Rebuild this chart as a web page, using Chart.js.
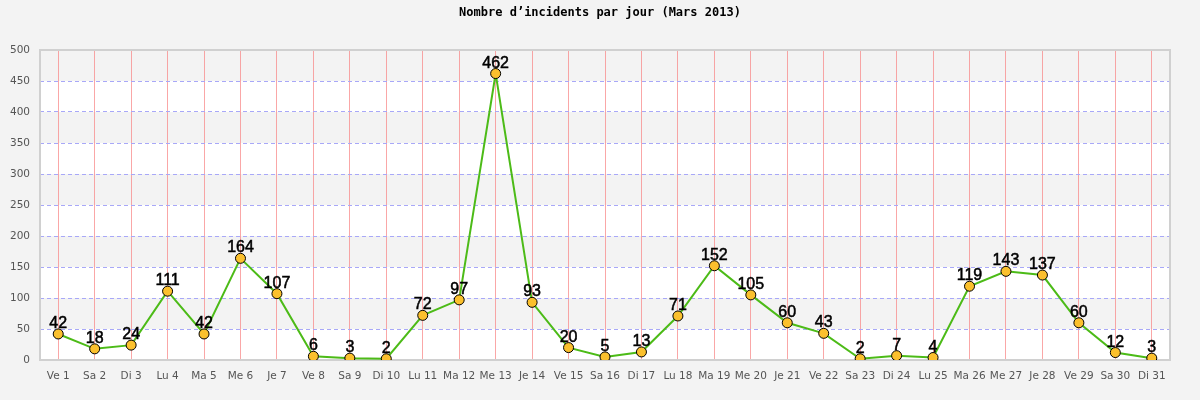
<!DOCTYPE html>
<html><head><meta charset="utf-8">
<script src="https://cdn.jsdelivr.net/npm/chart.js@4"></script>
<style>html,body{margin:0;padding:0;background:#f3f3f3}#w{width:1200px;height:400px}</style>
</head><body><div id="w"><canvas id="c" width="1200" height="400"></canvas></div>
<script>
const titleText = "Nombre d\u2019incidents par jour (Mars 2013)";
const categories = ["Ve 1","Sa 2","Di 3","Lu 4","Ma 5","Me 6","Je 7","Ve 8","Sa 9","Di 10","Lu 11","Ma 12","Me 13","Je 14","Ve 15","Sa 16","Di 17","Lu 18","Ma 19","Me 20","Je 21","Ve 22","Sa 23","Di 24","Lu 25","Ma 26","Me 27","Je 28","Ve 29","Sa 30","Di 31"];
const incidents = [42,18,24,111,42,164,107,6,3,2,72,97,462,93,20,5,13,71,152,105,60,43,2,7,4,119,143,137,60,12,3];
const yMin = 0, yMax = 500, yStep = 50;

const deco = {
  id:'deco',
  beforeDraw(chart){
    const {ctx, chartArea:a, scales:{y}} = chart;
    ctx.save();
    ctx.fillStyle='#f3f3f3'; ctx.fillRect(0,0,chart.width,chart.height);
    let i=0;
    for(let v=yMin; v<yMax; v+=yStep, i++){
      const y0=Math.round(y.getPixelForValue(v)), y1=Math.round(y.getPixelForValue(v+yStep));
      ctx.fillStyle = (i%2===0)?'#ffffff':'#f3f3f3';
      ctx.fillRect(a.left,y1,a.right-a.left,y0-y1);
    }
    ctx.font='bold 12px "DejaVu Sans Mono"';
    ctx.fillStyle='#000'; ctx.textAlign='center'; ctx.textBaseline='middle';
    ctx.fillText(titleText, 600, 13);
    ctx.restore();
  },
  beforeDatasetsDraw(chart){
    const {ctx, chartArea:a} = chart;
    ctx.save();
    ctx.strokeStyle='#d0d0d0'; ctx.lineWidth=2;
    ctx.strokeRect(a.left, a.top, a.right-a.left, a.bottom-a.top);
    ctx.restore();
  },
  afterDatasetsDraw(chart){
    const {ctx} = chart;
    const meta = chart.getDatasetMeta(0);
    ctx.save();
    ctx.font='16px "Liberation Sans"';
    ctx.fillStyle='#000'; ctx.strokeStyle='#000'; ctx.lineWidth=0.5;
    ctx.textAlign='center'; ctx.textBaseline='alphabetic';
    meta.data.forEach((p,i)=>{
      ctx.fillText(String(incidents[i]), p.x, p.y-6);
      ctx.strokeText(String(incidents[i]), p.x, p.y-6);
    });
    ctx.restore();
  }
};

new Chart(document.getElementById('c'),{
  type:'line',
  data:{labels:categories,datasets:[{
    data:incidents,
    borderColor:'#4cbb17',borderWidth:2,tension:0,
    pointRadius:5,pointHoverRadius:5,pointBackgroundColor:'#fbc02d',pointBorderColor:'#000',pointBorderWidth:1
  }]},
  options:{
    responsive:false,animation:false,
    layout:{padding:{top:50,right:30,left:0,bottom:0}},
    plugins:{legend:{display:false},title:{display:false},tooltip:{enabled:false}},
    scales:{
      x:{
        offset:true,
        grid:{color:'rgba(248,130,130,0.7)',lineWidth:1,drawTicks:false,offset:false},
        border:{display:false},
        ticks:{color:'#555',font:{family:'"DejaVu Sans"',size:10.5},padding:10,maxRotation:0,autoSkip:false},
        afterFit(s){s.height=40;}
      },
      y:{
        min:yMin,max:yMax,
        grid:{color:(c)=> (c.tick && (c.tick.value===yMin||c.tick.value===yMax))?'rgba(0,0,0,0)':'#a8a8f8',lineWidth:1,drawTicks:false},
        border:{display:false,dash:[4,3]},
        ticks:{stepSize:yStep,color:'#555',font:{family:'"DejaVu Sans"',size:10.5},padding:10},
        afterFit(s){s.width=40;}
      }
    }
  },
  plugins:[deco]
});
</script></body></html>
